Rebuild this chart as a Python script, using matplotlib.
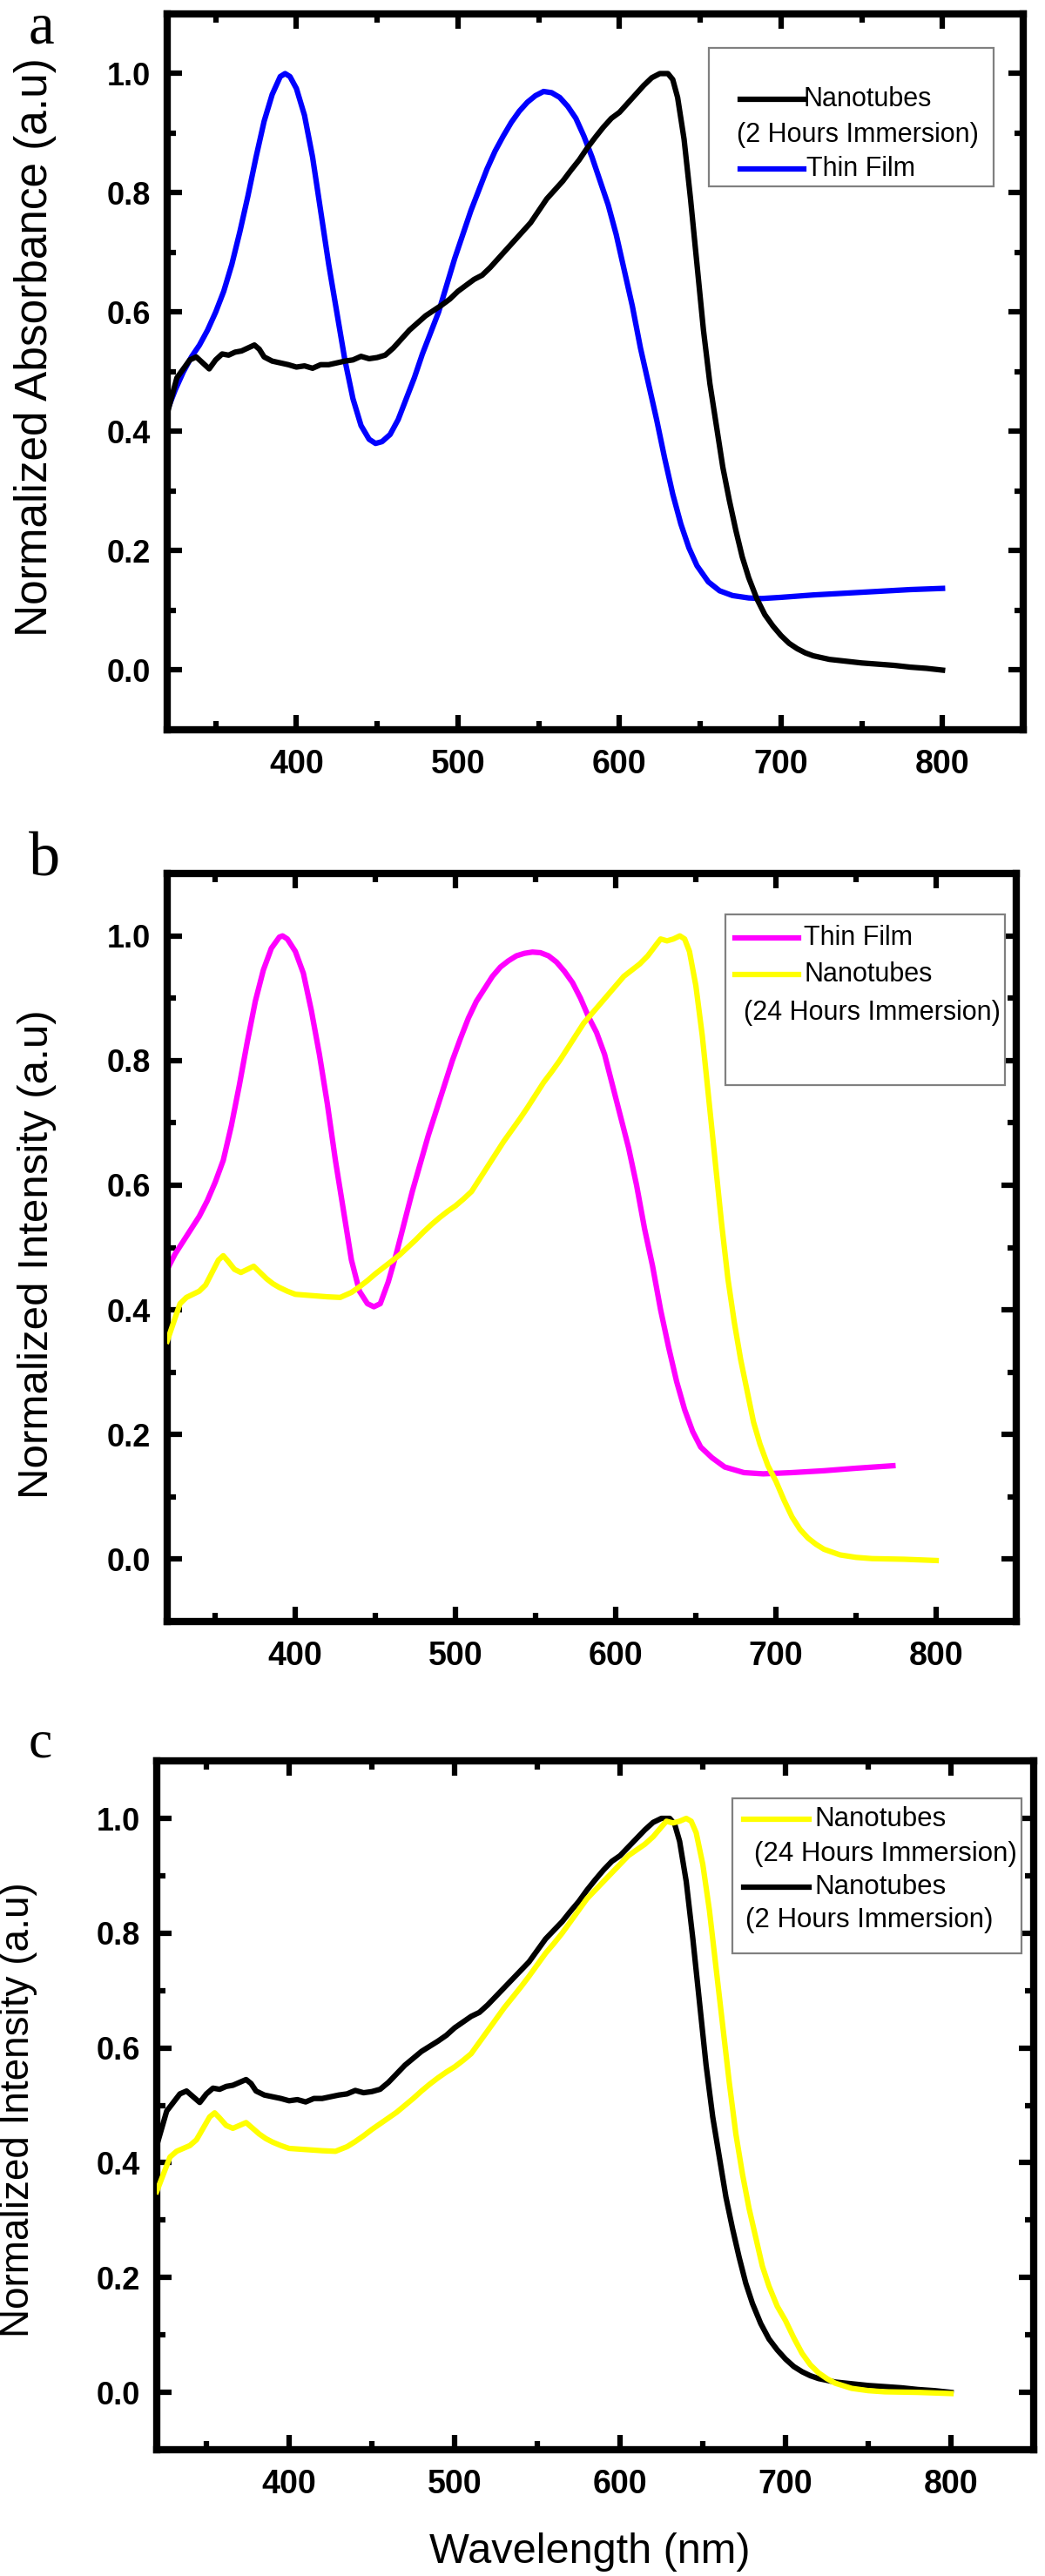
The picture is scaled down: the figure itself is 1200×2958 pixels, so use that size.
import matplotlib
matplotlib.use("Agg")
import matplotlib.pyplot as plt
from matplotlib.patches import Rectangle
from matplotlib.lines import Line2D
from matplotlib.ticker import MultipleLocator, FormatStrFormatter

# nanotubes, 2 hours immersion (panels a and c)
wl_nt2 = [320, 323, 326, 330, 334, 338, 342, 346, 350, 354, 358, 362, 366, 370, 374, 377, 380,
          385, 390, 395, 400, 405, 410, 415, 420, 425, 430, 435, 440, 445, 450, 455, 460, 465,
          470, 475, 480, 485, 490, 495, 500, 505, 510, 515, 520, 525, 530, 535, 540, 545, 550,
          555, 560, 565, 570, 575, 580, 585, 590, 595, 600, 605, 610, 615, 620, 625, 630, 633,
          636, 640, 644, 648, 652, 656, 660, 664, 668, 672, 676, 680, 685, 690, 695, 700, 705,
          710, 715, 720, 730, 740, 750, 760, 770, 780, 790, 800]
nt2 = [0.43, 0.46, 0.49, 0.505, 0.52, 0.525, 0.515, 0.505, 0.52, 0.53, 0.528, 0.533, 0.535,
       0.54, 0.545, 0.538, 0.525, 0.518, 0.515, 0.512, 0.508, 0.51, 0.506, 0.512, 0.512, 0.515,
       0.518, 0.52, 0.526, 0.522, 0.524, 0.528, 0.54, 0.555, 0.57, 0.582, 0.594, 0.603, 0.612,
       0.622, 0.635, 0.645, 0.655, 0.662, 0.675, 0.69, 0.705, 0.72, 0.735, 0.75, 0.77, 0.79,
       0.805, 0.82, 0.838, 0.855, 0.875, 0.893, 0.91, 0.925, 0.935, 0.95, 0.965, 0.98, 0.993,
       1.0, 1.0, 0.99, 0.96, 0.89, 0.79, 0.68, 0.57, 0.48, 0.41, 0.34, 0.285, 0.235, 0.19,
       0.155, 0.12, 0.093, 0.074, 0.058, 0.045, 0.036, 0.029, 0.024, 0.018, 0.015, 0.012,
       0.01, 0.008, 0.005, 0.003, 0.0]

# nanotubes, 24 hours immersion (panels b and c)
wl_nt24 = [320, 324, 328, 332, 336, 340, 344, 348, 352, 355, 358, 362, 366, 370, 374, 378, 382,
           386, 390, 395, 400, 410, 420, 428, 435, 440, 445, 450, 455, 460, 465, 470, 475, 480,
           485, 490, 495, 500, 505, 510, 515, 520, 525, 530, 535, 540, 545, 550, 555, 560, 565,
           570, 575, 580, 585, 590, 595, 600, 605, 610, 615, 620, 625, 628, 632, 636, 640, 643,
           646, 650, 654, 658, 662, 666, 670, 674, 678, 682, 686, 690, 695, 700, 705, 710, 715,
           720, 725, 730, 740, 750, 760, 780, 800]
nt24 = [0.35, 0.38, 0.41, 0.42, 0.425, 0.43, 0.44, 0.46, 0.48, 0.487, 0.478, 0.465, 0.46, 0.465,
        0.47, 0.46, 0.45, 0.442, 0.436, 0.43, 0.425, 0.423, 0.421, 0.42, 0.428, 0.437, 0.447,
        0.458, 0.468, 0.478, 0.488, 0.5, 0.512, 0.525, 0.537, 0.548, 0.558, 0.567, 0.578, 0.59,
        0.61, 0.63, 0.65, 0.67, 0.688, 0.706, 0.725, 0.745, 0.765, 0.782, 0.8, 0.82, 0.84, 0.86,
        0.875, 0.89, 0.905, 0.92, 0.935, 0.945, 0.955, 0.968, 0.985, 0.995, 0.992, 0.995, 1.0,
        0.995, 0.975, 0.92, 0.84, 0.74, 0.64, 0.54, 0.45, 0.38, 0.32, 0.27, 0.22, 0.185, 0.15,
        0.125, 0.095, 0.068, 0.048, 0.034, 0.024, 0.016, 0.007, 0.003, 0.001, 0.0, -0.002]

# thin film, absorbance (panel a)
wl_film_a = [320, 325, 330, 335, 340, 345, 350, 355, 360, 365, 370, 375, 380, 385, 390, 393,
             396, 400, 405, 410, 415, 420, 425, 430, 435, 440, 445, 449, 453, 458, 463, 468,
             473, 478, 483, 488, 493, 498, 503, 508, 513, 518, 523, 528, 533, 538, 543, 548,
             553, 558, 563, 568, 573, 578, 583, 588, 593, 598, 603, 608, 613, 618, 623, 628,
             633, 638, 643, 648, 655, 662, 670, 680, 688, 700, 720, 740, 760, 780, 800]
film_a = [0.435, 0.47, 0.5, 0.525, 0.545, 0.57, 0.6, 0.635, 0.68, 0.735, 0.795, 0.86, 0.92,
          0.965, 0.995, 1.0, 0.995, 0.975, 0.93, 0.86, 0.77, 0.68, 0.6, 0.52, 0.455, 0.41, 0.387,
          0.38, 0.383, 0.395, 0.42, 0.455, 0.49, 0.53, 0.565, 0.6, 0.645, 0.69, 0.73, 0.77,
          0.805, 0.84, 0.87, 0.895, 0.918, 0.937, 0.952, 0.963, 0.97, 0.968, 0.96, 0.945, 0.925,
          0.895, 0.86, 0.82, 0.78, 0.73, 0.67, 0.61, 0.54, 0.48, 0.42, 0.355, 0.295, 0.245,
          0.205, 0.175, 0.148, 0.133, 0.125, 0.121, 0.12, 0.122, 0.126, 0.129, 0.132, 0.135,
          0.137]

# thin film, intensity (panel b)
wl_film_b = [320, 325, 330, 335, 340, 345, 350, 355, 360, 365, 370, 375, 380, 385, 390, 392,
             395, 400, 405, 410, 415, 420, 425, 430, 435, 440, 445, 449, 453, 458, 463, 468,
             473, 478, 483, 488, 493, 498, 503, 508, 513, 518, 523, 528, 533, 538, 543, 548,
             553, 558, 563, 568, 573, 578, 583, 588, 593, 598, 603, 608, 613, 618, 623, 628,
             633, 638, 643, 648, 653, 660, 668, 680, 692, 710, 730, 750, 773]
film_b = [0.465, 0.49, 0.51, 0.53, 0.55, 0.575, 0.605, 0.64, 0.695, 0.76, 0.83, 0.895, 0.945,
          0.98, 0.998, 1.0, 0.995, 0.975, 0.94, 0.88, 0.81, 0.73, 0.64, 0.56, 0.48, 0.43, 0.41,
          0.405, 0.41, 0.445, 0.49, 0.54, 0.59, 0.635, 0.68, 0.72, 0.76, 0.8, 0.835, 0.868,
          0.895, 0.915, 0.935, 0.95, 0.96, 0.968, 0.972, 0.974, 0.973, 0.968, 0.958, 0.943,
          0.925, 0.9, 0.87, 0.845, 0.81, 0.76, 0.71, 0.66, 0.6, 0.53, 0.47, 0.4, 0.34, 0.285,
          0.24, 0.205, 0.18, 0.163, 0.148, 0.139, 0.137, 0.139, 0.142, 0.146, 0.15]

BLUE = "#0000ff"
MAGENTA = "#ff00ff"
YELLOW = "#ffff00"
LW = 4.5

plt.rcParams["font.family"] = ["Liberation Sans", "DejaVu Sans"]

fig = plt.figure(figsize=(12, 29.58), dpi=100)


def style_axes(ax, ylabel, ylab_x, ylab_y, ylab_size):
    ax.set_xlim(320, 850)
    ax.set_ylim(-0.1, 1.1)
    ax.xaxis.set_major_locator(MultipleLocator(100))
    ax.xaxis.set_minor_locator(MultipleLocator(50))
    ax.yaxis.set_major_locator(MultipleLocator(0.2))
    ax.yaxis.set_minor_locator(MultipleLocator(0.1))
    ax.yaxis.set_major_formatter(FormatStrFormatter("%.1f"))
    ax.set_xticks([400, 500, 600, 700, 800])
    ax.set_yticks([0.0, 0.2, 0.4, 0.6, 0.8, 1.0])
    ax.tick_params(which="both", direction="in", top=True, right=True, width=4.5)
    ax.tick_params(which="major", length=12)
    ax.tick_params(which="minor", length=7)
    ax.tick_params(axis="x", pad=16)
    ax.tick_params(axis="y", pad=14)
    for lab in ax.get_xticklabels():
        lab.set_fontweight("bold")
        lab.set_fontsize(27)
    for lab in ax.get_yticklabels():
        lab.set_fontweight("bold")
        lab.set_fontsize(26)
    for sp in ax.spines.values():
        sp.set_linewidth(6)
    ax.set_ylabel(ylabel, fontsize=ylab_size)
    ax.yaxis.set_label_coords(ylab_x, ylab_y)


def legend_box(ax, box, entries, size=22):
    # box = (x0, y0, x1, y1) in axes fraction; entries: (y, x, text, color)
    x0, y0, x1, y1 = box
    ax.add_patch(Rectangle((x0, y0), x1 - x0, y1 - y0, transform=ax.transAxes,
                           facecolor="white", edgecolor="#808080", lw=1.6, zorder=5))
    for y, x, text, color in entries:
        if color is not None:
            ax.add_line(Line2D([0.669, 0.744], [y, y], transform=ax.transAxes,
                               color=color, lw=LW, zorder=6))
        ax.text(x, y, text, transform=ax.transAxes, fontsize=size,
                va="center", ha="left", zorder=6)


# panel a
ax1 = fig.add_axes([0.16, 0.7167, 0.8192, 0.2779])
ax1.plot(wl_film_a, film_a, color=BLUE, lw=LW, zorder=2)
ax1.plot(wl_nt2, nt2, color="black", lw=LW, zorder=3)
style_axes(ax1, "Normalized Absorbance (a.u)", -0.129, 0.535, 37)
legend_box(ax1, (0.633, 0.759, 0.965, 0.953),
           [(0.881, 0.743, "Nanotubes", "black"),
            (0.831, 0.665, "(2 Hours Immersion)", None),
            (0.783, 0.747, "Thin Film", BLUE)])

# panel b
ax2 = fig.add_axes([0.16, 0.3705, 0.8125, 0.2904])
ax2.plot(wl_film_b, film_b, color=MAGENTA, lw=LW, zorder=2)
ax2.plot(wl_nt24, nt24, color=YELLOW, lw=LW, zorder=3)
style_axes(ax2, "Normalized Intensity (a.u)", -0.130, 0.491, 35.5)
legend_box(ax2, (0.657, 0.717, 0.987, 0.945),
           [(0.914, 0.750, "Thin Film", MAGENTA),
            (0.865, 0.750, "Nanotubes", YELLOW),
            (0.814, 0.679, "(24 Hours Immersion)", None)])

# panel c
ax3 = fig.add_axes([0.15, 0.0490, 0.8392, 0.2674])
ax3.plot(wl_nt2, nt2, color="black", lw=LW, zorder=2)
ax3.plot(wl_nt24, nt24, color=YELLOW, lw=LW, zorder=3)
style_axes(ax3, "Normalized Intensity (a.u)", -0.136, 0.493, 33)
ax3.set_xlabel("Wavelength (nm)", fontsize=35)
ax3.xaxis.set_label_coords(0.494, -0.12)
legend_box(ax3, (0.656, 0.721, 0.986, 0.946),
           [(0.915, 0.750, "Nanotubes", YELLOW),
            (0.865, 0.681, "(24 Hours Immersion)", None),
            (0.817, 0.750, "Nanotubes", "black"),
            (0.769, 0.671, "(2 Hours Immersion)", None)], size=22.5)

# panel letters (top of text box given in pixels from the top)
for letter, ytop, size in [("a", 2, 48), ("b", 955, 52), ("c", 1975, 44)]:
    fig.text(33 / 1200, 1 - ytop / 2958, letter, fontsize=size, va="top", ha="left",
             family=["Liberation Serif", "DejaVu Serif"])

fig.savefig("out.png", dpi=100)
